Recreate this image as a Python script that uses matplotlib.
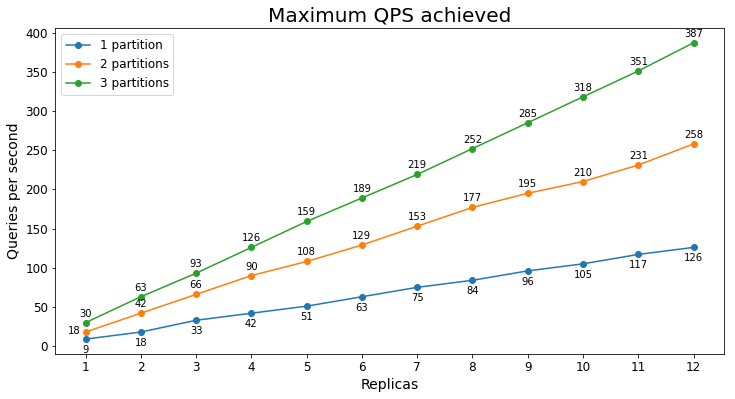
import matplotlib
matplotlib.use('Agg')
import matplotlib.pyplot as plt

replicas = list(range(1, 13))
qps_1 = [9, 18, 33, 42, 51, 63, 75, 84, 96, 105, 117, 126]
qps_2 = [18, 42, 66, 90, 108, 129, 153, 177, 195, 210, 231, 258]
qps_3 = [30, 63, 93, 126, 159, 189, 219, 252, 285, 318, 351, 387]

fig, ax = plt.subplots(figsize=(735 / 72, 399 / 72), dpi=72)
fig.subplots_adjust(left=0.075, right=0.985, top=0.93, bottom=0.113)

ax.plot(replicas, qps_1, marker='o', label='1 partition')
ax.plot(replicas, qps_2, marker='o', label='2 partitions')
ax.plot(replicas, qps_3, marker='o', label='3 partitions')

# labels: 1 partition below, others above
for x, y in zip(replicas, qps_1):
    ax.annotate(str(y), (x, y), textcoords='offset points', xytext=(0, -14),
                ha='center', fontsize=10)
for i, (x, y) in enumerate(zip(replicas, qps_2)):
    if i == 0:
        ax.annotate(str(y), (x, y), textcoords='offset points', xytext=(-11, -2),
                    ha='center', fontsize=10)
    else:
        ax.annotate(str(y), (x, y), textcoords='offset points', xytext=(0, 6),
                    ha='center', fontsize=10)
for x, y in zip(replicas, qps_3):
    ax.annotate(str(y), (x, y), textcoords='offset points', xytext=(0, 6),
                ha='center', fontsize=10)

ax.set_title('Maximum QPS achieved', fontsize=20)
ax.set_xlabel('Replicas', fontsize=14)
ax.set_ylabel('Queries per second', fontsize=14)
ax.set_xticks(replicas)
ax.tick_params(labelsize=12)
ax.legend(fontsize=12, loc='upper left')

fig.savefig('out.png', dpi=72)
